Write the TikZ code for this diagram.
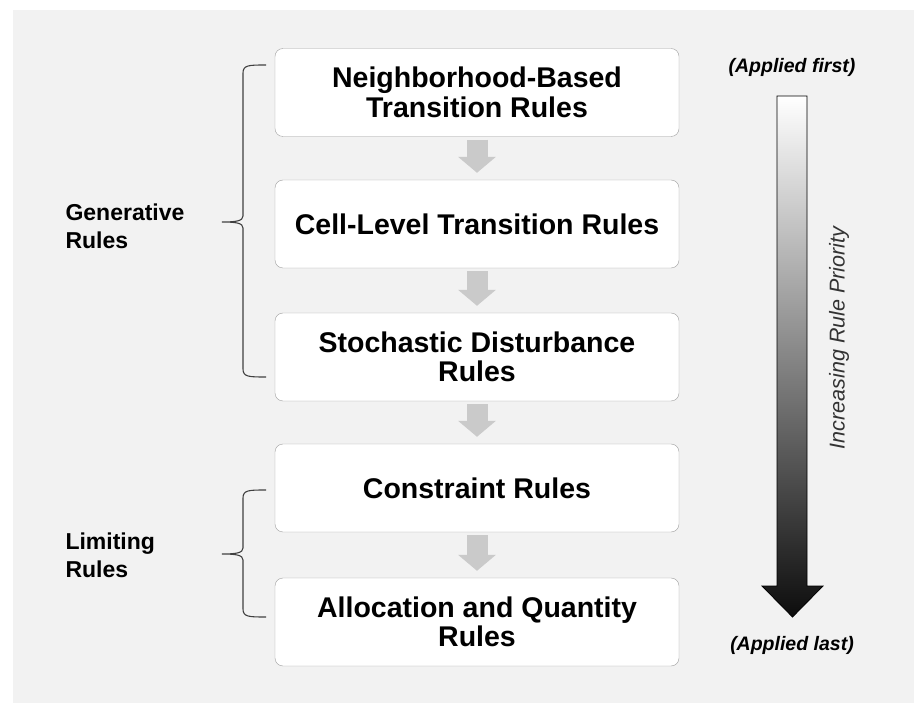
\documentclass[tikz,border=0pt]{standalone}
\usepackage{fontspec}
\setmainfont{Liberation Sans}
\usetikzlibrary{arrows.meta}
\definecolor{bggray}{HTML}{F2F2F2}
\definecolor{boxline}{HTML}{A0A0A0}
\definecolor{blkgray}{HTML}{CACACA}
\definecolor{brcgray}{HTML}{404040}
\tikzset{
  rulebox/.style={draw=boxline,fill=white,rounded corners=8pt,minimum width=404pt,
    minimum height=88pt,align=center,font=\bfseries\fontsize{28.5}{29.5}\selectfont},
  grplabel/.style={anchor=west,align=left,font=\bfseries\fontsize{23}{28}\selectfont},
  blkarrow/.style={draw=blkgray,line width=21pt,-{Triangle[width=37pt,length=16pt]},
    shorten <=3pt,shorten >=7pt},
  brc/.style={draw=brcgray,line width=1.1pt}
}
\begin{document}
\begin{tikzpicture}[x=1pt,y=-1pt]
  \def\bx{477}
  \def\zavorka(#1,#2,#3){%
    \draw[brc] (266,#1) .. controls (249,#1) and (243,#1) .. (243,#1+8)
      -- (243,#2-6) .. controls (243,#2-1) and (236,#2) .. (222,#2)
      .. controls (236,#2) and (243,#2+1) .. (243,#2+6)
      -- (243,#3-8) .. controls (243,#3) and (249,#3) .. (266,#3);
  }
  \useasboundingbox (0,0) rectangle (914,703);
  \fill[white] (0,0) rectangle (914,703);
  \fill[bggray] (13,10) rectangle (914,703);

  % the five rule sets
  \node[rulebox] (nbr) at (\bx,92.5) {Neighborhood-Based\\Transition Rules};
  \node[rulebox] (cell) at (\bx,224) {Cell-Level Transition Rules};
  \node[rulebox] (stoch) at (\bx,357) {Stochastic Disturbance\\Rules};
  \node[rulebox] (constr) at (\bx,488) {Constraint Rules};
  \node[rulebox] (alloc) at (\bx,622) {Allocation and Quantity\\Rules};

  \draw[blkarrow] (nbr) -- (cell);
  \draw[blkarrow] (cell) -- (stoch);
  \draw[blkarrow] (stoch) -- (constr);
  \draw[blkarrow] (constr) -- (alloc);

  % groups on the left
  \zavorka(65,222,377)
  \zavorka(490,554,617)
  \node[grplabel] (gen) at (62,226) {Generative\\Rules};
  \node[grplabel] (lim) at (62,555) {Limiting\\Rules};

  % priority arrow
  \shade[top color=white,bottom color=black!95] (777,96) -- (807,96) -- (807,586)
    -- (823,586) -- (792.5,617) -- (762,586) -- (777,586) -- cycle;
  \draw[black,line width=0.8pt] (777,96) -- (807,96) -- (807,586)
    -- (823,586) -- (792.5,617) -- (762,586) -- (777,586) -- cycle;
  \node[font=\bfseries\itshape\fontsize{19.5}{22}\selectfont] (first) at (792,67) {(Applied first)};
  \node[font=\bfseries\itshape\fontsize{19.5}{22}\selectfont] (last) at (792,645) {(Applied last)};
  \node[rotate=90,text=black!80,font=\itshape\fontsize{21.5}{24}\selectfont] (prio) at (839,338) {Increasing Rule Priority};
\end{tikzpicture}
\end{document}
